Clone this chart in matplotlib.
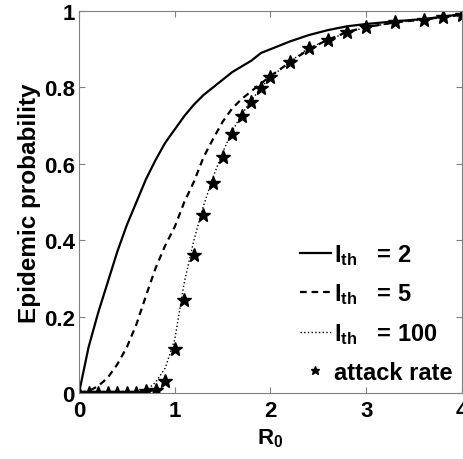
import matplotlib
matplotlib.use('Agg')
import matplotlib.pyplot as plt

plt.rcParams['font.family'] = ['Liberation Sans', 'DejaVu Sans']
plt.rcParams['font.weight'] = 'bold'
plt.rcParams['mathtext.fontset'] = 'custom'
plt.rcParams['mathtext.rm'] = 'Liberation Sans:bold'
plt.rcParams['mathtext.it'] = 'Liberation Sans:bold'
plt.rcParams['mathtext.bf'] = 'Liberation Sans:bold'

# R0 grid used by the simulations
r0 = [0, 0.1, 0.2, 0.3, 0.4, 0.5, 0.6, 0.7, 0.8, 0.9, 1.0, 1.1, 1.2, 1.3, 1.4, 1.5,
      1.6, 1.7, 1.8, 1.9, 2.0, 2.2, 2.4, 2.6, 2.8, 3.0, 3.3, 3.6, 3.8, 4.0]

# epidemic probability for threshold I_th = 2
p_ith2 = [0, 0.12, 0.21, 0.29, 0.37, 0.44, 0.50, 0.56, 0.61, 0.655, 0.69, 0.725, 0.755,
          0.78, 0.80, 0.82, 0.84, 0.855, 0.87, 0.89, 0.90, 0.92, 0.937, 0.95, 0.96,
          0.966, 0.973, 0.979, 0.985, 0.992]
# I_th = 5
p_ith5 = [0, 0.005, 0.018, 0.04, 0.075, 0.12, 0.18, 0.255, 0.327, 0.386, 0.435, 0.50,
          0.553, 0.617, 0.665, 0.71, 0.745, 0.77, 0.79, 0.81, 0.83, 0.865, 0.90, 0.925,
          0.945, 0.958, 0.97, 0.978, 0.984, 0.99]
# I_th = 100
p_ith100 = [0, 0, 0, 0, 0, 0, 0.002, 0.006, 0.028, 0.065, 0.14, 0.29, 0.40, 0.49, 0.565,
            0.63, 0.685, 0.73, 0.765, 0.80, 0.826, 0.867, 0.903, 0.924, 0.944, 0.957,
            0.97, 0.977, 0.983, 0.989]
# final attack rate
attack = [0, 0, 0, 0, 0, 0, 0.001, 0.004, 0.009, 0.032, 0.115, 0.243, 0.361, 0.466,
          0.549, 0.618, 0.677, 0.726, 0.761, 0.798, 0.826, 0.867, 0.903, 0.924, 0.944,
          0.957, 0.970, 0.977, 0.983, 0.989]

fig = plt.figure(figsize=(4.64, 4.60), dpi=100)
ax = fig.add_axes([79 / 464, 66 / 460, 383 / 464, 382 / 460])

ax.plot(r0, p_ith2, '-', color='black', lw=1.6, label=r'$\mathbf{I_{th}}$   = 2')
ax.plot(r0, p_ith5, '--', color='black', lw=1.6, dashes=(3, 2.2), label=r'$\mathbf{I_{th}}$   = 5')
ax.plot(r0, p_ith100, ':', color='black', lw=1.0, label=r'$\mathbf{I_{th}}$   = 100')
ax.plot(r0, attack, '*', color='black', ms=10.5, ls='none', label='attack rate')

ax.set_xlim(0, 4)
ax.set_ylim(0, 1)
ax.set_xticks([0, 1, 2, 3, 4])
ax.set_xticklabels(['0', '1', '2', '3', '4'])
ax.set_yticks([0, 0.2, 0.4, 0.6, 0.8, 1])
ax.set_yticklabels(['0', '0.2', '0.4', '0.6', '0.8', '1'])
ax.tick_params(direction='in', length=4, width=0.8, color='#808080',
               top=True, right=True, labelsize=16)
ax.tick_params(axis='y', pad=3)
ax.tick_params(axis='x', pad=5)
for s in ax.spines.values():
    s.set_color('#808080')
    s.set_linewidth(0.8)

ax.set_xlabel(r'$\mathbf{R_0}$', fontsize=16, labelpad=4)
ax.set_ylabel('Epidemic probability', fontsize=17.5, fontweight='bold', labelpad=2)

ax.legend(loc='lower right', frameon=False, fontsize=17, handlelength=1.3,
          handletextpad=0.15, labelspacing=0.62, markerscale=0.6,
          borderaxespad=0.1, borderpad=0.3)

fig.savefig('out.png', dpi=100)
